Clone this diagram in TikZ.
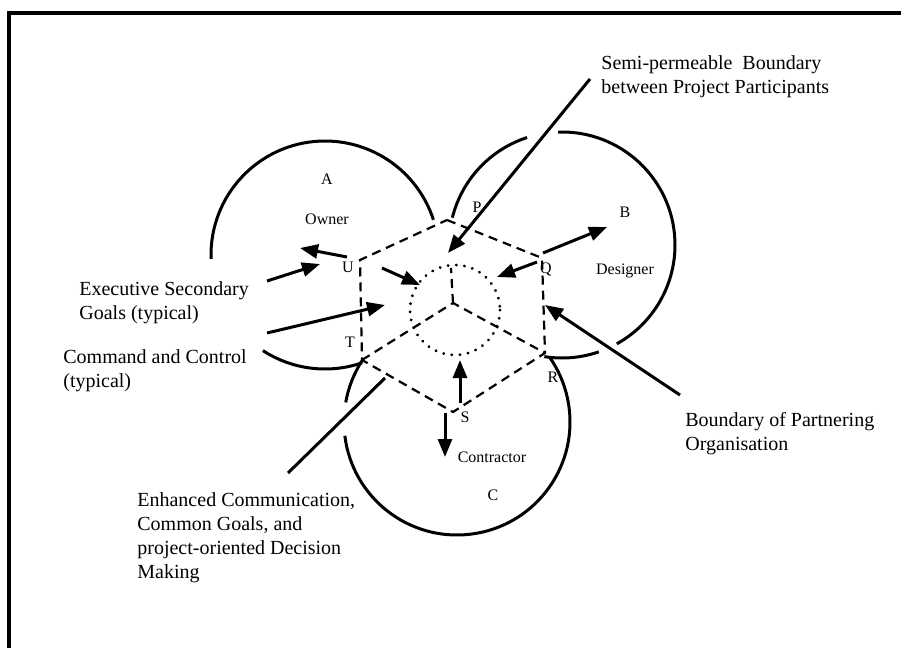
\documentclass[tikz,border=0pt]{standalone}
\usepackage{fontspec}
\setmainfont{Liberation Serif}
\usetikzlibrary{arrows.meta}

\begin{document}
\begin{tikzpicture}[x=0.5pt, y=-0.5pt, every node/.style={font=\fontsize{8}{9.6}\selectfont, inner sep=0pt}, note/.style={font=\fontsize{10}{12}\selectfont, align=left, anchor=north west}, ring/.style={line width=1.5pt}, hexedge/.style={line width=1.1pt, dash pattern=on 4.5pt off 3pt}, ptr/.style={line width=1.5pt, -{Triangle[length=9pt,width=7pt]}}]
\useasboundingbox (0,0) rectangle (901,648);
\draw[line width=1.6pt] (9,648) -- (9,13) -- (901,13);
\coordinate (cA) at (325,255); \coordinate (cB) at (562,245); \coordinate (cC) at (457,422);
\draw[ring] (cA) ++(-182:114) arc[start angle=-182, end angle=-18, radius=114];
\draw[ring] (cA) ++(-237:114) arc[start angle=-237, end angle=-289, radius=114];
\draw[ring] (cB) ++(-108:113) arc[start angle=-108, end angle=-166, radius=113];
\draw[ring] (cB) ++(-92:113) arc[start angle=-92, end angle=61, radius=113];
\draw[ring] (cB) ++(71:113) arc[start angle=71, end angle=99, radius=113];
\draw[ring] (cC) ++(-147:113) arc[start angle=-147, end angle=-170, radius=113];
\draw[ring] (cC) ++(-187:113) arc[start angle=-187, end angle=-395, radius=113];
\coordinate (p) at (447,220); \coordinate (q) at (542,258); \coordinate (r) at (545,353);
\coordinate (s) at (453,412); \coordinate (t) at (362,360); \coordinate (u) at (360,260);
\coordinate (hub) at (453,303); \coordinate (hubtop) at (451,268);
\draw[hexedge] (p) -- (q) -- (r) -- (s) -- (t) -- (u) -- cycle;
\draw[hexedge] (t) -- (hub) -- (r); \draw[hexedge] (hub) -- (hubtop);
\draw[line width=1.5pt, dash pattern=on 0.1pt off 4pt, line cap=round] (455,310) circle[radius=45];
\node[note] (semi) at (601,55) {Semi-permeable\ \ Boundary\\between Project Participants};
\node[note] (exec) at (79,281) {Executive Secondary\\Goals (typical)};
\node[note] (cmd) at (63,349) {Command and Control\\(typical)};
\node[note] (enh) at (137,492) {Enhanced Communication,\\Common Goals, and\\project-oriented Decision\\Making};
\node[note] (bnd) at (685,412) {Boundary of Partnering\\Organisation};
\node (la) at (327,179) {A}; \node (owner) at (327,219) {Owner};
\node (lb) at (625,212) {B}; \node (designer) at (625,271) {Designer};
\node (lc) at (493,495) {C}; \node (contractor) at (492,457) {Contractor};
\node (lp) at (477,207) {P}; \node (lq) at (546,269) {Q}; \node (lr) at (553,377) {R};
\node (ls) at (465,417) {S}; \node (lt) at (350,342) {T}; \node (lu) at (348,267) {U};
\coordinate (ownT) at (347,257); \coordinate (ownH) at (300,248);
\coordinate (exT) at (267,281); \coordinate (exH) at (320,264);
\coordinate (uinT) at (382,268); \coordinate (uinH) at (420,285);
\coordinate (cmdT) at (267,333); \coordinate (cmdH) at (385,305);
\coordinate (semiT) at (590,79); \coordinate (semiH) at (448,253);
\coordinate (qinT) at (537,262); \coordinate (qinH) at (497,277);
\coordinate (qoutT) at (543,253); \coordinate (qoutH) at (607,227);
\coordinate (bndT) at (680,395); \coordinate (bndH) at (545,305);
\coordinate (supT) at (460,403); \coordinate (supH) at (460,360);
\coordinate (sdnT) at (445,413); \coordinate (sdnH) at (445,457);
\coordinate (enhT) at (288,473); \coordinate (enhH) at (385,378);
\draw[ptr] (ownT) -- (ownH); \draw[ptr] (exT) -- (exH); \draw[ptr] (uinT) -- (uinH); \draw[ptr] (cmdT) -- (cmdH); \draw[ptr] (semiT) -- (semiH); \draw[ptr] (qinT) -- (qinH); \draw[ptr] (qoutT) -- (qoutH); \draw[ptr] (bndT) -- (bndH); \draw[ptr] (supT) -- (supH); \draw[ptr] (sdnT) -- (sdnH);
\draw[line width=1.5pt] (enhT) -- (enhH);
\end{tikzpicture}
\end{document}
